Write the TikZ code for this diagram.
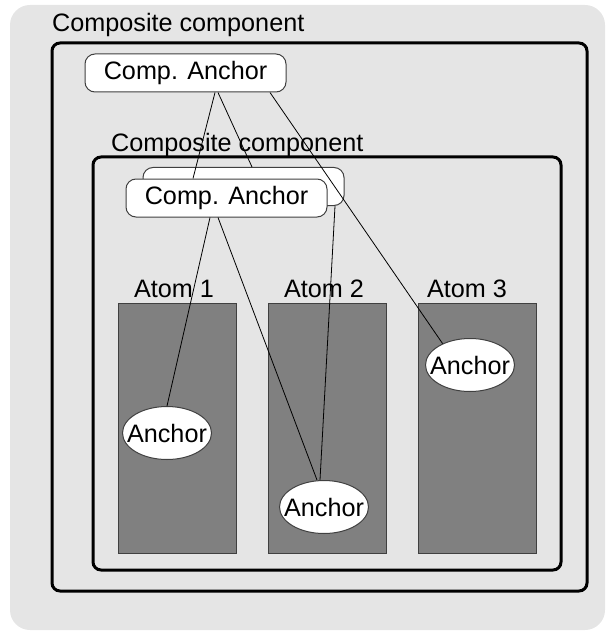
\documentclass[tikz,border=0pt]{standalone}
\usepackage{fontspec}
\setmainfont{Liberation Sans}
\usetikzlibrary{shapes.geometric}
\definecolor{hintergrund}{gray}{0.898}
\definecolor{atomgrau}{gray}{0.5}
\definecolor{randgrau}{gray}{0.25}
\begin{document}
\begin{tikzpicture}[x=1pt,y=-1pt,font=\fontsize{25.2}{30}\selectfont,
		kompbox/.style={draw=black,line width=3pt,rounded corners=8pt},
		ankerbox/.style={draw=randgrau,fill=white,line width=1pt,rounded corners=10pt,minimum width=201pt,minimum height=38pt,inner sep=0pt},
		anker/.style={ellipse,draw=randgrau,fill=white,line width=1pt,minimum width=89pt,minimum height=53pt,inner xsep=-19pt,inner ysep=0pt},
		atom/.style={draw=randgrau,fill=atomgrau,line width=1pt},
		titel/.style={anchor=base west,inner sep=0pt},
		verbindung/.style={line width=0.8pt}]
		\useasboundingbox (0,0) rectangle (606,631);
		
		% Grauer Hintergrund
		\fill[hintergrund,rounded corners=20pt] (10,5) rectangle (605,630);
		
		% Aeussere und innere Komponente
		\draw[kompbox] (52,43) rectangle (587,591);
		\node[titel] (aussentitel) at (52,32) {Composite component};
		\draw[kompbox] (93,157) rectangle (561,570);
		\node[titel] (innentitel) at (111,152) {Composite component};
		
		% Atome mit Beschriftung
		\foreach \x/\m/\n in {118/174/1,268/324/2,418/467/3} {
			\draw[atom] (\x,303) rectangle ++(118,250);
			\node[anchor=base,inner sep=0pt] (atomtitel\n) at (\m,297) {Atom \n};
		}
		
		% Comp. Anchor Knoten
		\node[ankerbox] (obenanker) at (185.5,73) {Comp. Anchor};
		\node[ankerbox] (hintenanker) at (243.5,186.5) {};
		\node[ankerbox] (vornanker) at (226.5,198) {Comp. Anchor};
		
		% Anker in den Atomen
		\node[anker] (anker1) at (167,433) {Anchor};
		\node[anker] (anker2) at (324,507) {Anchor};
		\node[anker] (anker3) at (470,365) {Anchor};
		
		% Verbindungen
		\draw[verbindung] ([xshift=29.5pt]obenanker.south) -- ([xshift=-33.5pt]vornanker.north);
		\draw[verbindung] ([xshift=32.5pt]obenanker.south) -- ([xshift=8.5pt]hintenanker.north);
		\draw[verbindung] ([xshift=84.5pt]obenanker.south) -- (anker3.142);
		\draw[verbindung] ([xshift=-16.5pt]vornanker.south) -- (anker1.north);
		\draw[verbindung] ([xshift=-8.5pt]vornanker.south) -- ([xshift=-7pt]anker2.north);
		\draw[verbindung] ([xshift=91.5pt]hintenanker.south) -- ([xshift=-4pt]anker2.north);
	\end{tikzpicture}
\end{document}
